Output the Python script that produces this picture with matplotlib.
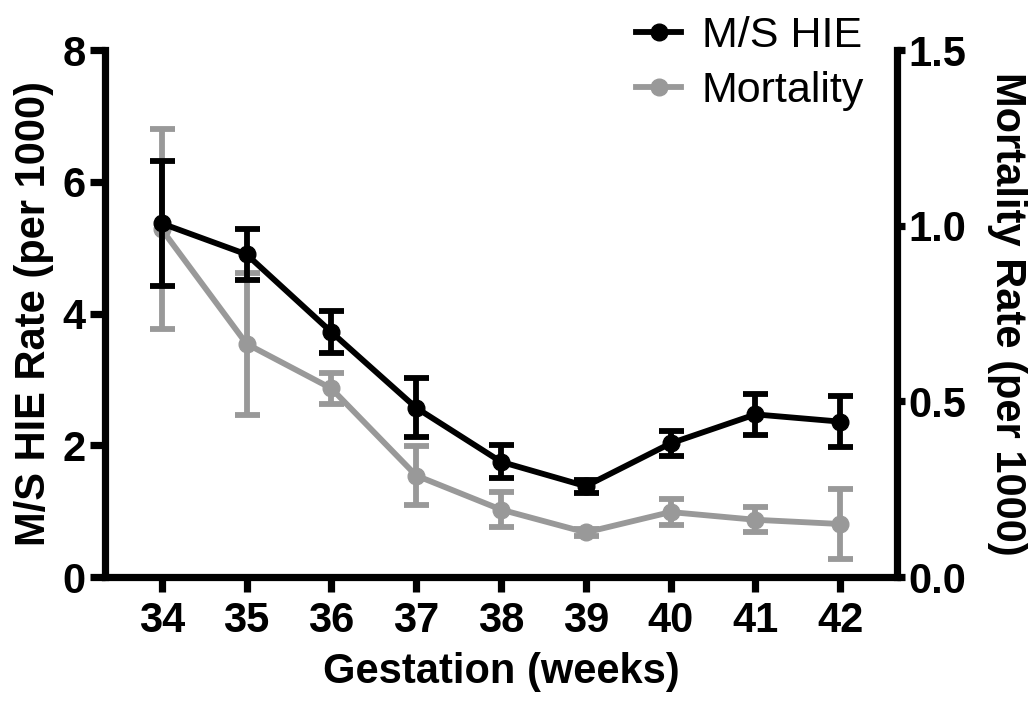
import numpy as np
import matplotlib
matplotlib.use("Agg")
import matplotlib.pyplot as plt
from matplotlib.lines import Line2D

plt.rcParams['font.family'] = ['Liberation Sans', 'DejaVu Sans']

# gestational age (weeks)
weeks = [34, 35, 36, 37, 38, 39, 40, 41, 42]

# moderate/severe HIE rate per 1000, with error
hie_rate = [5.37, 4.90, 3.72, 2.57, 1.75, 1.38, 2.03, 2.47, 2.36]
hie_err = [0.95, 0.39, 0.32, 0.45, 0.25, 0.10, 0.19, 0.31, 0.39]

# mortality rate per 1000, with error
mort_rate = [0.99, 0.664, 0.537, 0.289, 0.192, 0.127, 0.185, 0.163, 0.151]
mort_err = [0.285, 0.203, 0.044, 0.085, 0.05, 0.01, 0.038, 0.035, 0.10]

grey = '#999999'
lw = 4.2
spine_w = 5.2
ms = 12

fig = plt.figure(figsize=(10.34, 7.08), dpi=100)
ax = fig.add_axes([0.1015, 0.185, 0.766, 0.744])
ax2 = ax.twinx()

ax2.errorbar(weeks, mort_rate, yerr=mort_err, fmt='-o', color=grey,
             lw=lw, ms=ms, elinewidth=lw, capsize=9, capthick=lw)
ax.errorbar(weeks, hie_rate, yerr=hie_err, fmt='-o', color='black',
            lw=lw, ms=ms, elinewidth=lw, capsize=9, capthick=lw)

# keep the HIE series drawn over the mortality series
ax.set_zorder(ax2.get_zorder() + 1)
ax.patch.set_visible(False)

ax.set_xlim(33.33, 42.67)
ax.set_ylim(0, 8)
ax2.set_ylim(0, 1.5)
ax.set_xticks(weeks)
ax.set_yticks([0, 2, 4, 6, 8])
ax2.set_yticks([0.0, 0.5, 1.0, 1.5])
ax2.set_yticklabels(['0.0', '0.5', '1.0', '1.5'])

for a in (ax, ax2):
    a.spines['top'].set_visible(False)
    for s in a.spines.values():
        s.set_linewidth(spine_w)
ax.spines['right'].set_visible(False)
ax2.spines['left'].set_visible(False)
ax2.spines['bottom'].set_visible(False)

ax.tick_params(axis='x', length=11, width=spine_w, pad=6, labelsize=30)
ax.tick_params(axis='y', length=11, width=spine_w, pad=3, labelsize=30)
ax2.tick_params(axis='y', length=6, width=spine_w, pad=2, labelsize=30)
for lab in ax.get_xticklabels() + ax.get_yticklabels() + ax2.get_yticklabels():
    lab.set_fontweight('bold')

ax.set_xlabel('Gestation (weeks)', fontsize=30, fontweight='bold', labelpad=8)
ax.set_ylabel('M/S HIE Rate (per 1000)', fontsize=30, fontweight='bold', labelpad=6)
ax2.set_ylabel('Mortality Rate (per 1000)', fontsize=30, fontweight='bold',
               rotation=270, labelpad=44)

# legend shows plain line + marker, no error bars
handles = [Line2D([], [], color='black', lw=lw, marker='o', ms=ms),
           Line2D([], [], color=grey, lw=lw, marker='o', ms=ms)]
fig.legend(handles, ['M/S HIE', 'Mortality'], loc='upper left',
           bbox_to_anchor=(0.586, 1.02), frameon=False, fontsize=31,
           handlelength=1.05, handletextpad=0.47, labelspacing=0.35,
           borderpad=0.2)

fig.savefig('out.png', dpi=100)
